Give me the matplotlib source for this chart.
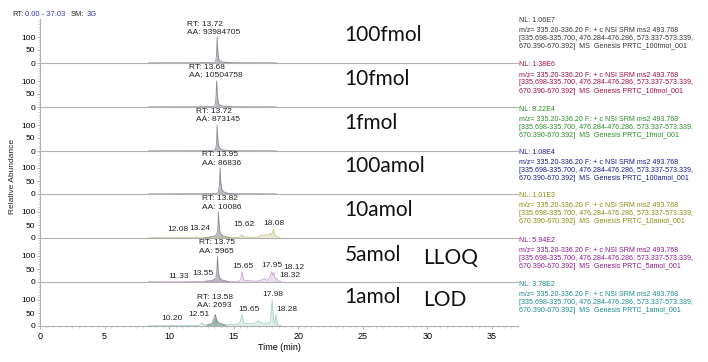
import matplotlib
matplotlib.use("Agg")
import matplotlib.pyplot as plt
from matplotlib.ticker import MultipleLocator

plt.rcParams["font.family"] = ["Liberation Sans", "DejaVu Sans"]

# ---------------------------------------------------------------------------
# Data
# ---------------------------------------------------------------------------

AMOUNTS = ["100fmol", "10fmol", "1fmol", "100amol", "10amol", "5amol", "1amol"]
TAGS = ["", "", "", "", "", "LLOQ", "LOD"]
NL_VALUES = ["1.06E7", "1.38E6", "8.22E4", "1.08E4", "1.01E3", "5.94E2", "3.78E2"]
FILE_NAMES = ["100fmol", "10fmol", "1fmol", "100amol", "10amol", "5amol", "1amol"]
PANEL_COLORS = ["#333333", "#a0103a", "#2a8a2a", "#1a1a80", "#8a8a10", "#8a1a8a", "#1a8a8a"]
TRACE_COLORS = ["#b8b8d8", "#c8b0c0", "#b0c8b0", "#b0b0d8", "#c8c890", "#c8a8d0", "#a8d0c8"]

APEX_RT = [13.72, 13.68, 13.72, 13.95, 13.82, 13.75, 13.58]
APEX_AA = ["93984705", "10504758", "873145", "86836", "10086", "5965", "2693"]

# main peak, filled grey
MAIN_T = [
    [8.4, 12.0, 13.4, 13.6, 13.68, 13.72, 13.78, 13.85, 13.95, 14.1, 14.3, 14.6, 15.0, 18.3],
    [8.4, 12.0, 13.4, 13.55, 13.63, 13.68, 13.74, 13.82, 13.92, 14.05, 14.3, 14.6, 15.0, 18.3],
    [8.4, 12.0, 13.4, 13.6, 13.68, 13.72, 13.78, 13.85, 13.95, 14.1, 14.3, 14.6, 15.0, 18.3],
    [8.4, 12.0, 13.6, 13.82, 13.9, 13.95, 14.0, 14.08, 14.2, 14.35, 14.5, 14.8, 15.2, 18.3],
    [12.8, 13.3, 13.55, 13.7, 13.78, 13.82, 13.88, 13.95, 14.05, 14.2, 14.4, 14.7],
    [12.8, 13.3, 13.5, 13.62, 13.7, 13.75, 13.8, 13.88, 13.98, 14.1, 14.3, 14.6],
    [12.9, 13.2, 13.35, 13.45, 13.52, 13.58, 13.65, 13.72, 13.85, 14.0, 14.2, 14.4],
]
MAIN_I = [
    [0.5, 0.8, 1.5, 4, 30, 100, 40, 15, 8, 5, 3, 2, 1, 0.5],
    [0.5, 0.8, 1.5, 4, 30, 100, 40, 15, 8, 5, 3, 2, 1, 0.5],
    [0.5, 0.8, 1.5, 5, 30, 100, 40, 18, 10, 6, 3, 2, 1, 0.5],
    [0.5, 0.8, 1.5, 5, 35, 100, 45, 18, 10, 6, 3, 2, 1, 0.5],
    [2, 4, 8, 15, 40, 100, 45, 20, 12, 8, 5, 2],
    [3, 5, 10, 15, 40, 100, 40, 20, 12, 8, 5, 2],
    [3, 8, 12, 25, 35, 45, 30, 20, 12, 10, 6, 2],
]

# remaining trace (noise and other peaks), thin coloured line
SIDE_T = [
    [14.3, 14.45, 14.55, 14.7, 14.9],
    [14.3, 14.45, 14.55, 14.7, 14.9],
    [14.3, 14.45, 14.55, 14.7, 14.9],
    [14.4, 14.55, 14.7, 14.85, 15.0],
    [8.4, 11.9, 12.08, 12.3, 13.1, 13.24, 13.4, 14.7, 15.4, 15.62, 15.8, 16.8, 17.2, 17.35,
     17.5, 17.65, 17.8, 17.95, 18.08, 18.2, 18.35, 18.6],
    [8.4, 11.2, 11.33, 11.5, 13.4, 13.55, 13.65, 14.7, 15.4, 15.55, 15.65, 15.8, 16.8,
     17.2, 17.4, 17.6, 17.8, 17.95, 18.05, 18.12, 18.22, 18.32, 18.45, 18.7],
    [8.4, 10.05, 10.2, 10.35, 12.35, 12.51, 12.7, 14.5, 15.3, 15.5, 15.65, 15.8, 16.2,
     16.7, 16.9, 17.1, 17.4, 17.85, 17.98, 18.1, 18.2, 18.28, 18.4, 18.7],
]
SIDE_I = [
    [2, 4, 3, 2, 1],
    [2, 3, 2, 1, 0.5],
    [2, 3, 2, 1, 0.5],
    [2, 3, 2, 1, 0.5],
    [1, 1, 4, 1, 2, 6, 3, 2, 2, 12, 3, 3, 12, 6, 15, 8, 18, 12, 35, 10, 5, 1],
    [1, 1, 3, 1, 3, 8, 4, 2, 2, 10, 38, 6, 3, 8, 12, 6, 20, 40, 25, 36, 12, 15, 4, 1],
    [1, 1, 4, 1, 2, 12, 3, 5, 6, 15, 45, 10, 8, 12, 20, 14, 10, 15, 100, 20, 10, 45, 5, 1],
]

# extra peak labels per panel: (label, x position in min, height)
PEAK_LABELS = [
    [],
    [],
    [],
    [],
    [("12.08", 10.69, 34), ("13.24", 12.39, 38), ("15.62", 15.8, 50), ("18.08", 18.12, 57)],
    [("11.33", 10.76, 20), ("13.55", 12.6, 34), ("15.65", 15.7, 58), ("17.95", 18.0, 62),
     ("18.12", 19.7, 54), ("18.32", 19.35, 24)],
    [("10.20", 10.2, 30), ("12.51", 12.35, 44), ("15.65", 16.2, 65), ("17.98", 18.0, 122),
     ("18.28", 19.1, 62)],
]
# RT/AA block left edge (min) and height of RT line
APEX_LABEL_X = [11.38, 11.54, 12.08, 12.54, 12.54, 12.31, 12.16]
APEX_LABEL_Y = [150, 153, 153, 150, 150, 150, 108]
AMOUNT_Y = [108, 108, 106, 108, 108, 105, 111]
TAG_Y = [0, 0, 0, 0, 0, 92, 100]

X_MAX = 37.03

# ---------------------------------------------------------------------------
# Figure
# ---------------------------------------------------------------------------

W, H = 708, 362
fig = plt.figure(figsize=(W / 100, H / 100), dpi=100)

left_px, right_px = 40, 518
panel_h = 44
baselines = [63, 107, 151, 194, 238, 282, 326]
ytop = 100 * panel_h / 26.0

big_font = ["Lato", "DejaVu Sans"]

for k, base in enumerate(baselines):
    ax = fig.add_axes([left_px / W, 1 - base / H, (right_px - left_px) / W, panel_h / H])
    ax.set_xlim(0, X_MAX)
    ax.patch.set_alpha(0)
    for s in ("top", "right"):
        ax.spines[s].set_visible(False)
    for s in ("left", "bottom"):
        ax.spines[s].set_color("#b0b0b0")
        ax.spines[s].set_linewidth(0.8)
    ax.set_yticks([0, 50, 100])
    ax.yaxis.set_minor_locator(MultipleLocator(10))
    ax.tick_params(axis="y", which="major", labelsize=6, length=2.5, width=0.5,
                   color="#909090", pad=1)
    ax.tick_params(axis="y", which="minor", length=1.5, width=0.4, color="#b0b0b0")
    ax.set_ylim(0, ytop)

    # trace
    ax.plot(SIDE_T[k], SIDE_I[k], color=TRACE_COLORS[k], lw=0.6)
    ax.fill_between(SIDE_T[k], SIDE_I[k], color=TRACE_COLORS[k], alpha=0.35, lw=0)
    main_col = "#7a9a88" if k == 6 else "#a8a8b0"
    ax.fill_between(MAIN_T[k], MAIN_I[k], color=main_col, alpha=0.8, lw=0)
    ax.plot(MAIN_T[k], MAIN_I[k], color="#8c8c98", lw=0.6)

    # RT / AA annotation
    ax.text(APEX_LABEL_X[k], APEX_LABEL_Y[k], f"RT: {APEX_RT[k]:.2f}", fontsize=6,
            ha="left", va="center", color="#222222", clip_on=False)
    ax.text(APEX_LABEL_X[k], APEX_LABEL_Y[k] - 31, f"AA: {APEX_AA[k]}", fontsize=6,
            ha="left", va="center", color="#222222", clip_on=False)
    for lab, lx, ly in PEAK_LABELS[k]:
        ax.text(lx, ly, lab, fontsize=6, ha="center", va="center", color="#222222")

    # sample amount label
    ax.text(23.6, AMOUNT_Y[k], AMOUNTS[k], fontsize=15, family=big_font,
            ha="left", va="center", color="#111111", clip_on=False)
    if TAGS[k]:
        ax.text(29.65, TAG_Y[k], TAGS[k], fontsize=15, family=big_font,
                ha="left", va="center", color="#111111", clip_on=False)

    # right-hand scan description
    col = PANEL_COLORS[k]
    x_txt = 519 / W
    y0 = 1 - (base - 42) / H
    lines = [
        f"NL: {NL_VALUES[k]}",
        "m/z= 335.20-336.20 F: + c NSI SRM ms2 493.768",
        "[335.698-335.700, 476.284-476.286, 573.337-573.339,",
        f"670.390-670.392]  MS  Genesis PRTC_{FILE_NAMES[k]}_001",
    ]
    offs = [0, 10, 18, 26]
    for line, o in zip(lines, offs):
        fig.text(x_txt, y0 - o / H, line, fontsize=5.1, color=col, ha="left", va="center")

    if k < len(baselines) - 1:
        ax.set_xticks([])
    else:
        ax.xaxis.set_major_locator(MultipleLocator(5))
        ax.xaxis.set_minor_locator(MultipleLocator(0.5))
        ax.tick_params(axis="x", which="major", labelsize=6.5, length=2.5, width=0.5,
                       color="#909090", pad=2)
        ax.tick_params(axis="x", which="minor", length=1.5, width=0.4, color="#b0b0b0")
        ax.set_xlabel("Time (min)", fontsize=6.5, labelpad=1)

fig.text(13 / W, 1 - 177 / H, "Relative Abundance", rotation=90, fontsize=6,
         ha="center", va="center", color="#222222")

# header
fig.text(12 / W, 1 - 15 / H, "RT:", fontsize=5.5, color="#222222", ha="left", va="center")
fig.text(25 / W, 1 - 15 / H, "0.00 - 37.03", fontsize=5.5, color="#3a3ab0", ha="left", va="center")
fig.text(71 / W, 1 - 15 / H, "SM:", fontsize=5.5, color="#222222", ha="left", va="center")
fig.text(87 / W, 1 - 15 / H, "3G", fontsize=5.5, color="#3a3ab0", ha="left", va="center")

fig.savefig("out.png", dpi=100)
